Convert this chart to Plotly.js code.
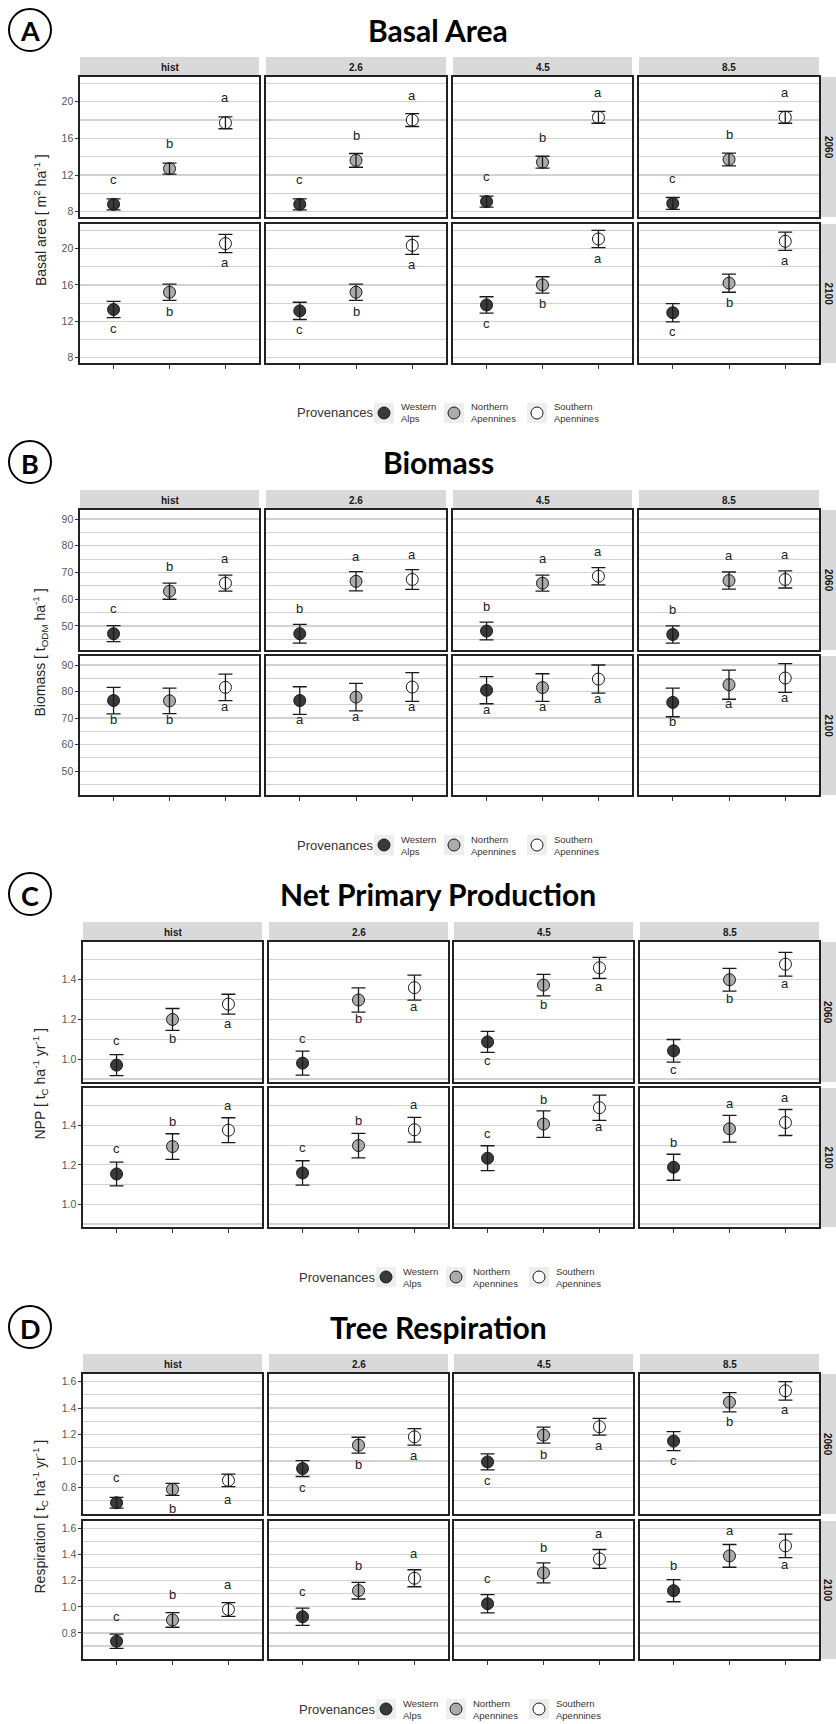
<!DOCTYPE html>
<html>
<head>
<meta charset="utf-8">
<script src="https://cdn.plot.ly/plotly-3.0.1.min.js"></script>
<style>
  html, body { margin: 0; padding: 0; background: #ffffff; }
  #chart { width: 836px; height: 1724px; }
</style>
</head>
<body>
<div id="chart"></div>
<script>
// ---- Data ---------------------------------------------------------------
const scenarios = ['hist', '2.6', '4.5', '8.5'];
const periods = ['2060', '2100'];
const provenances = ['Western Alps', 'Northern Apennines', 'Southern Apennines'];
const provenanceLabels = ['Western<br>Alps', 'Northern<br>Apennines', 'Southern<br>Apennines'];

// All arrays are [period][scenario][provenance]
// Basal area (m2 ha-1)
const basalMean = [
  [[8.8, 12.7, 17.7], [8.8, 13.6, 18.0], [9.1, 13.4, 18.3], [8.9, 13.7, 18.3]],
  [[13.3, 15.2, 20.55], [13.15, 15.2, 20.35], [13.8, 16.0, 21.05], [12.95, 16.2, 20.8]]
];
const basalSE = [
  [[0.6, 0.6, 0.65], [0.6, 0.75, 0.7], [0.6, 0.65, 0.65], [0.65, 0.7, 0.65]],
  [[0.9, 0.9, 1.0], [0.95, 0.9, 1.0], [0.9, 0.9, 0.95], [1.0, 1.0, 1.0]]
];
const basalLetters = [
  [['c', 'b', 'a'], ['c', 'b', 'a'], ['c', 'b', 'a'], ['c', 'b', 'a']],
  [['c', 'b', 'a'], ['c', 'b', 'a'], ['c', 'b', 'a'], ['c', 'b', 'a']]
];
const basalLetterSide = [
  [[1, 1, 1], [1, 1, 1], [1, 1, 1], [1, 1, 1]],
  [[-1, -1, -1], [-1, -1, -1], [-1, -1, -1], [-1, -1, -1]]
];

// Biomass (t ODM ha-1)
const biomassMean = [
  [[47.1, 63.0, 66.0], [47.1, 66.7, 67.4], [48.1, 66.0, 68.6], [46.8, 67.0, 67.4]],
  [[76.6, 76.5, 81.6], [76.6, 77.9, 81.7], [80.5, 81.5, 84.7], [75.9, 82.6, 85.1]]
];
const biomassSE = [
  [[3.0, 3.0, 3.0], [3.5, 3.6, 3.7], [3.3, 3.0, 3.2], [3.2, 3.2, 3.2]],
  [[5.0, 4.8, 5.0], [5.2, 5.2, 5.4], [5.1, 5.2, 5.3], [5.4, 5.5, 5.4]]
];
const biomassLetters = [
  [['c', 'b', 'a'], ['b', 'a', 'a'], ['b', 'a', 'a'], ['b', 'a', 'a']],
  [['b', 'b', 'a'], ['a', 'a', 'a'], ['a', 'a', 'a'], ['b', 'a', 'a']]
];
const biomassLetterSide = [
  [[1, 1, 1], [1, 1, 1], [1, 1, 1], [1, 1, 1]],
  [[-1, -1, -1], [-1, -1, -1], [-1, -1, -1], [-1, -1, -1]]
];

// Net primary production (t C ha-1 yr-1)
const nppMean = [
  [[0.97, 1.20, 1.277], [0.98, 1.298, 1.36], [1.087, 1.373, 1.46], [1.042, 1.40, 1.478]],
  [[1.154, 1.293, 1.376], [1.159, 1.298, 1.378], [1.234, 1.407, 1.49], [1.188, 1.383, 1.415]]
];
const nppSE = [
  [[0.053, 0.055, 0.05], [0.06, 0.061, 0.063], [0.053, 0.054, 0.053], [0.057, 0.057, 0.06]],
  [[0.06, 0.065, 0.063], [0.062, 0.062, 0.063], [0.063, 0.067, 0.064], [0.066, 0.068, 0.066]]
];
const nppLetters = [
  [['c', 'b', 'a'], ['c', 'b', 'a'], ['c', 'b', 'a'], ['c', 'b', 'a']],
  [['c', 'b', 'a'], ['c', 'b', 'a'], ['c', 'b', 'a'], ['b', 'a', 'a']]
];
const nppLetterSide = [
  [[1, -1, -1], [1, -1, -1], [-1, -1, -1], [-1, -1, -1]],
  [[1, 1, 1], [1, 1, 1], [1, 1, -1], [1, 1, 1]]
];

// Tree respiration (t C ha-1 yr-1)
const respMean = [
  [[0.686, 0.787, 0.855], [0.944, 1.12, 1.183], [0.994, 1.196, 1.259], [1.151, 1.444, 1.53]],
  [[0.737, 0.90, 0.98], [0.924, 1.124, 1.219], [1.024, 1.26, 1.367], [1.124, 1.39, 1.467]]
];
const respSE = [
  [[0.04, 0.045, 0.047], [0.06, 0.06, 0.062], [0.06, 0.06, 0.063], [0.072, 0.072, 0.07]],
  [[0.055, 0.056, 0.053], [0.066, 0.064, 0.065], [0.07, 0.077, 0.072], [0.085, 0.087, 0.09]]
];
const respLetters = [
  [['c', 'b', 'a'], ['c', 'b', 'a'], ['c', 'b', 'a'], ['c', 'b', 'a']],
  [['c', 'b', 'a'], ['c', 'b', 'a'], ['c', 'b', 'a'], ['b', 'a', 'a']]
];
const respLetterSide = [
  [[1, -1, -1], [-1, -1, -1], [-1, -1, -1], [-1, -1, -1]],
  [[1, 1, 1], [1, 1, 1], [1, 1, 1], [1, 1, -1]]
];

// ---- Styling and page geometry -------------------------------------------
const W = 836, H = 1724;
const px = x => x / W;
const py = y => 1 - y / H;

const fills = ['#3a3a3a', '#ababab', '#ffffff'];
const ink = '#1a1a1a';
const gridColor = '#d2d2d2';
const baseFont = 'Liberation Sans, Arial, sans-serif';
const titleFont = 'Lato, Open Sans, sans-serif';

const colsAB = [[80, 259], [266, 446], [453, 632], [639, 819]];
const colsCD = [[83, 262], [269, 448], [454, 633], [640, 819]];

const sections = [
  { badge: 'A', title: 'Basal Area',
    ytitle: 'Basal area [ m<sup>2</sup> ha<sup>-1</sup> ]',
    mean: basalMean, se: basalSE, letters: basalLetters, side: basalLetterSide,
    range: [7.42, 22.7], tick0: 0, dtick: 4, minor: 2, fmt: 'd',
    stripTop: 57, rows: [[77, 217], [224, 363]], cols: colsAB,
    titleY: 30, legendY: 413, legendDx: 0 },
  { badge: 'B', title: 'Biomass',
    ytitle: 'Biomass [ t<sub>ODM</sub> ha<sup>-1</sup> ]',
    mean: biomassMean, se: biomassSE, letters: biomassLetters, side: biomassLetterSide,
    range: [41.0, 93.4], tick0: 0, dtick: 10, minor: 5, fmt: 'd',
    stripTop: 490, rows: [[510, 650], [656, 795]], cols: colsAB,
    titleY: 462, legendY: 845, legendDx: 0 },
  { badge: 'C', title: 'Net Primary Production',
    ytitle: 'NPP [ t<sub>C</sub> ha<sup>-1</sup> yr<sup>-1</sup> ]',
    mean: nppMean, se: nppSE, letters: nppLetters, side: nppLetterSide,
    range: [0.885, 1.59], tick0: 0, dtick: 0.2, minor: 0.1, fmt: '.1f',
    stripTop: 922, rows: [[942, 1082], [1088, 1227]], cols: colsCD,
    titleY: 894, legendY: 1277, legendDx: 2 },
  { badge: 'D', title: 'Tree Respiration',
    ytitle: 'Respiration [ t<sub>C</sub> ha<sup>-1</sup> yr<sup>-1</sup> ]',
    mean: respMean, se: respSE, letters: respLetters, side: respLetterSide,
    range: [0.601, 1.657], tick0: 0, dtick: 0.2, minor: 0.1, fmt: '.1f',
    stripTop: 1354, rows: [[1374, 1514], [1521, 1659]], cols: colsCD,
    titleY: 1327, legendY: 1709, legendDx: 2 }
];

const legendKeyX = [384, 454, 537];

const layout = {
  width: W, height: H,
  margin: { l: 0, r: 0, t: 0, b: 0 },
  paper_bgcolor: '#ffffff', plot_bgcolor: '#ffffff',
  showlegend: false,
  font: { family: baseFont, color: '#333333' },
  shapes: [], annotations: []
};
const data = [];

let n = 0;
sections.forEach(sec => {
  const stripBottom = sec.rows[0][0];

  // Panel title and circled badge
  layout.annotations.push({
    xref: 'paper', yref: 'paper', x: px(438), y: py(sec.titleY),
    xanchor: 'center', yanchor: 'middle', showarrow: false,
    text: '<b>' + sec.title + '</b>',
    font: { family: titleFont, size: 30, color: '#000000' }
  });
  layout.shapes.push({
    type: 'circle', xref: 'paper', yref: 'paper',
    xsizemode: 'pixel', ysizemode: 'pixel',
    xanchor: px(30), yanchor: py(sec.titleY),
    x0: -21, x1: 21, y0: -21, y1: 21,
    line: { color: '#000000', width: 2 }, fillcolor: 'rgba(0,0,0,0)'
  });
  layout.annotations.push({
    xref: 'paper', yref: 'paper', x: px(30), y: py(sec.titleY + 1),
    xanchor: 'center', yanchor: 'middle', showarrow: false,
    text: '<b>' + sec.badge + '</b>',
    font: { family: titleFont, size: 27, color: '#000000' }
  });

  // Shared y-axis title
  layout.annotations.push({
    xref: 'paper', yref: 'paper', x: px(40),
    y: py((sec.rows[0][0] + sec.rows[1][1]) / 2),
    xanchor: 'center', yanchor: 'middle', showarrow: false, textangle: -90,
    text: sec.ytitle, font: { family: baseFont, size: 14, color: '#262626' }
  });

  // Column strips
  sec.cols.forEach((col, c) => {
    layout.shapes.push({
      type: 'rect', xref: 'paper', yref: 'paper', layer: 'below',
      x0: px(col[0]), x1: px(col[1]), y0: py(stripBottom), y1: py(sec.stripTop),
      fillcolor: '#d9d9d9', line: { width: 0 }
    });
    layout.annotations.push({
      xref: 'paper', yref: 'paper', x: px((col[0] + col[1]) / 2),
      y: py((sec.stripTop + stripBottom) / 2),
      xanchor: 'center', yanchor: 'middle', showarrow: false,
      text: '<b>' + scenarios[c] + '</b>',
      font: { family: baseFont, size: 10, color: ink }
    });
  });

  // Row strips
  sec.rows.forEach((row, r) => {
    layout.shapes.push({
      type: 'rect', xref: 'paper', yref: 'paper', layer: 'below',
      x0: px(820), x1: px(836), y0: py(row[1]), y1: py(row[0]),
      fillcolor: '#d9d9d9', line: { width: 0 }
    });
    layout.annotations.push({
      xref: 'paper', yref: 'paper', x: px(828), y: py((row[0] + row[1]) / 2),
      xanchor: 'center', yanchor: 'middle', showarrow: false, textangle: 90,
      text: '<b>' + periods[r] + '</b>',
      font: { family: baseFont, size: 10, color: ink }
    });
  });

  // Facet panels
  periods.forEach((per, r) => {
    const row = sec.rows[r];
    scenarios.forEach((scn, c) => {
      n += 1;
      const sfx = n === 1 ? '' : String(n);
      const xa = 'x' + sfx, ya = 'y' + sfx;
      const col = sec.cols[c];

      layout['xaxis' + sfx] = {
        domain: [px(col[0]), px(col[1])], anchor: ya,
        type: 'category', categoryorder: 'array', categoryarray: provenances,
        range: [-0.6, 2.6], fixedrange: true,
        showgrid: false, zeroline: false,
        showline: true, mirror: true, linecolor: '#222222', linewidth: 1.6,
        ticks: r === 1 ? 'outside' : '', ticklen: 4, tickwidth: 1, tickcolor: '#333333',
        showticklabels: false
      };
      layout['yaxis' + sfx] = {
        domain: [py(row[1]), py(row[0])], anchor: xa,
        range: sec.range, fixedrange: true,
        tick0: sec.tick0, dtick: sec.dtick, tickformat: sec.fmt,
        showgrid: true, gridcolor: gridColor, gridwidth: 1.2,
        minor: { dtick: sec.minor, tick0: sec.tick0, showgrid: true, gridcolor: gridColor, gridwidth: 1.2, ticks: '' },
        zeroline: false,
        showline: true, mirror: true, linecolor: '#222222', linewidth: 1.6,
        ticks: c === 0 ? 'outside' : '', ticklen: 3, tickwidth: 1, tickcolor: '#333333',
        showticklabels: c === 0,
        tickfont: { family: baseFont, size: 10.5, color: '#555555' }
      };

      const means = sec.mean[r][c];
      const ses = sec.se[r][c];

      data.push({
        type: 'scatter', mode: 'markers', xaxis: xa, yaxis: ya,
        x: provenances, y: means, name: periods[r] + ' ' + scn,
        marker: { size: 12, color: fills, line: { color: ink, width: 1 } },
        hoverinfo: 'x+y', showlegend: false
      });
      // error bars drawn above the markers
      data.push({
        type: 'scatter', mode: 'markers', xaxis: xa, yaxis: ya,
        x: provenances, y: means, name: periods[r] + ' ' + scn + ' SE',
        marker: { size: 12, opacity: 0 },
        error_y: { type: 'data', array: ses, visible: true, color: ink, thickness: 1.3, width: 7 },
        hoverinfo: 'skip', showlegend: false
      });

      sec.letters[r][c].forEach((letter, j) => {
        const up = sec.side[r][c][j] > 0;
        layout.annotations.push({
          xref: xa, yref: ya, x: j, y: means[j],
          yshift: up ? 25 : -19,
          xanchor: 'center', yanchor: 'middle', showarrow: false,
          text: letter, font: { family: baseFont, size: 13, color: '#222222' }
        });
      });
    });
  });

  // Provenance key
  const dx = sec.legendDx;
  layout.annotations.push({
    xref: 'paper', yref: 'paper', x: px(295 + dx), y: py(sec.legendY),
    xanchor: 'left', yanchor: 'middle', showarrow: false,
    text: 'Provenances', font: { family: baseFont, size: 13, color: '#333333' }
  });
  provenances.forEach((p, j) => {
    const kx = legendKeyX[j] + dx;
    layout.shapes.push({
      type: 'rect', xref: 'paper', yref: 'paper',
      x0: px(kx - 10), x1: px(kx + 10), y0: py(sec.legendY + 10), y1: py(sec.legendY - 10),
      fillcolor: '#eeeeee', line: { width: 0 }, layer: 'below'
    });
    layout.shapes.push({
      type: 'circle', xref: 'paper', yref: 'paper',
      xsizemode: 'pixel', ysizemode: 'pixel',
      xanchor: px(kx), yanchor: py(sec.legendY),
      x0: -6, x1: 6, y0: -6, y1: 6,
      fillcolor: fills[j], line: { color: ink, width: 1 }
    });
    layout.annotations.push({
      xref: 'paper', yref: 'paper', x: px(kx + 15), y: py(sec.legendY),
      xanchor: 'left', yanchor: 'middle', align: 'left', showarrow: false,
      text: provenanceLabels[j],
      font: { family: baseFont, size: 9.5, color: '#333333' }
    });
  });
});

Plotly.newPlot('chart', data, layout, { displayModeBar: false, staticPlot: true });
</script>
</body>
</html>
